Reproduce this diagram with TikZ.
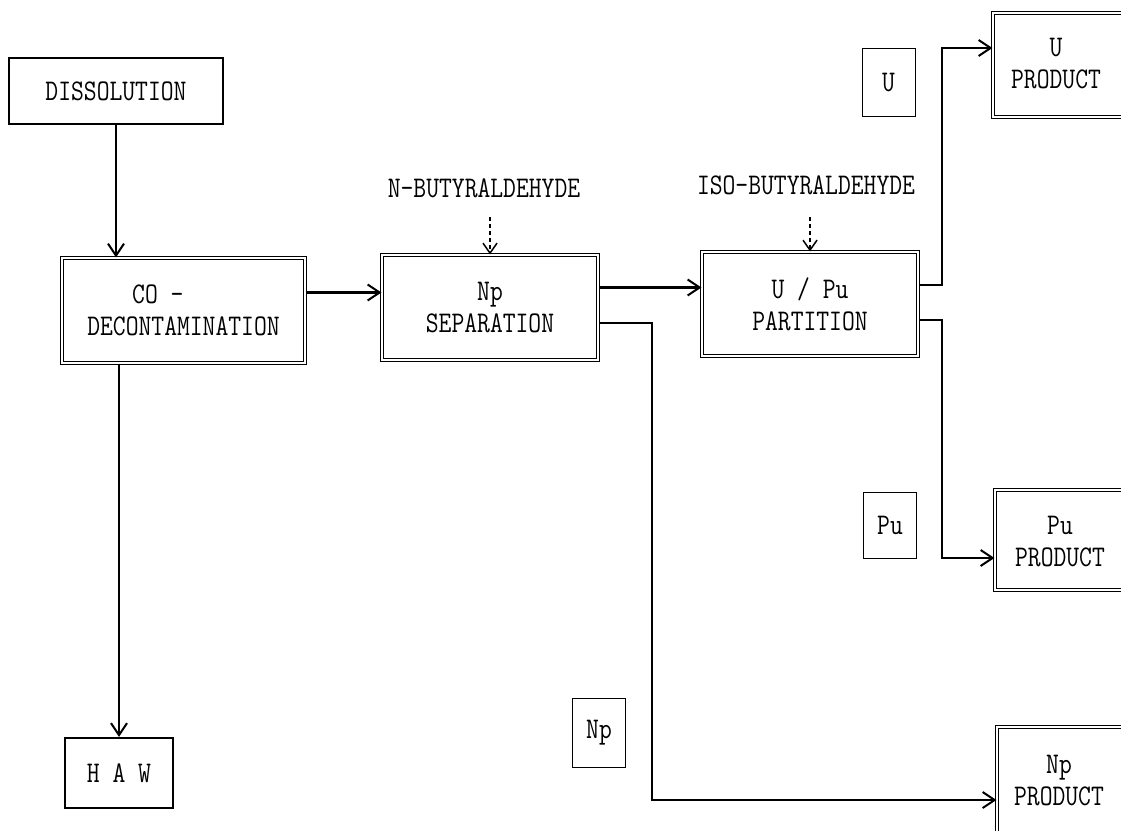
\documentclass[tikz,border=0pt]{standalone}
\usepackage{fontspec}
\newfontfamily\diafont[FakeStretch=0.83]{Latin Modern Mono}
\usetikzlibrary{arrows.meta,calc}
\tikzset{
  txt/.style={font=\diafont\fontsize{30}{32}\selectfont, inner sep=0pt, align=center},
  thickbox/.style={txt, draw, line width=2.2pt, minimum width=#1},
  dblbox/.style={txt, draw, double, line width=1.1pt, double distance=2.4pt},
  smallbox/.style={txt, draw, line width=1pt, minimum width=53pt, minimum height=68pt},
  arr/.style={line width=2.3pt, -{Straight Barb[length=12pt,width=16pt,line width=2pt]}},
  dasharr/.style={line width=1.3pt, dash pattern=on 4pt off 3pt, -{Straight Barb[length=10pt,width=14pt,line width=1.5pt]}},
}
\begin{document}
\begin{tikzpicture}[x=1pt,y=-1pt]
\useasboundingbox (0,0) rectangle (1121,830);
\clip (0,0) rectangle (1121,830);
% main boxes
\node[thickbox=214pt, minimum height=66pt] (diss) at (116,91) {DISSOLUTION};
\node[dblbox, minimum width=243pt, minimum height=105pt] (codecon) at (183.5,310.5) {CO -\phantom{XXXX}\\DECONTAMINATION};
\node[dblbox, minimum width=216pt, minimum height=105pt] (npsep) at (490,307.5) {Np\\SEPARATION};
\node[dblbox, minimum width=216pt, minimum height=104pt] (upu) at (810,304) {U / Pu\\PARTITION};
\node[thickbox=108pt, minimum height=70pt] (haw) at (119,773) {H A W};
% product boxes (cut at the right edge)
\node[dblbox, minimum width=140pt, minimum height=104pt] (uprod) at (1063,65) {};
\node[txt] (uprodt) at (1056,64) {U\\PRODUCT};
\node[dblbox, minimum width=140pt, minimum height=100pt] (puprod) at (1065,540) {};
\node[txt] (puprodt) at (1060,542) {Pu\\PRODUCT};
\node[dblbox, minimum width=140pt, minimum height=108pt] (npprod) at (1067,781) {};
\node[txt] (npprodt) at (1059,781) {Np\\PRODUCT};
% small labels
\node[smallbox] (ulab) at (888.5,82.5) {U};
\node[smallbox, minimum height=66pt] (pulab) at (890,525) {Pu};
\node[smallbox, minimum height=69pt] (nplab) at (599,732.5) {Np};
% reagent labels
\node[txt] (nbut) at (484,188) {N-BUTYRALDEHYDE};
\node[txt] (isobut) at (806,185) {ISO-BUTYRALDEHYDE};
% connectors
\draw[arr] (diss.south) -- (diss.south |- codecon.north);
\draw[arr] (haw.north |- codecon.south) -- (haw.north);
\draw[arr] ([yshift=18pt]codecon.east) -- ([yshift=18pt]codecon.east -| npsep.west);
\draw[arr] ([yshift=20pt]npsep.east) -- ([yshift=20pt]npsep.east -| upu.west);
\coordinate (npturn) at (652,800);
\draw[arr] ([yshift=-15.5pt]npsep.east) -| (npturn) -- (npturn -| npprod.west);
\coordinate (uturn) at (942,48);
\draw[arr] ([yshift=19pt]upu.east) -| (uturn) -- (uturn -| uprod.west);
\coordinate (puturn) at (942,558);
\draw[arr] ([yshift=-16pt]upu.east) -| (puturn) -- (puturn -| puprod.west);
\draw[dasharr] ([yshift=37pt]npsep.north) -- (npsep.north);
\draw[dasharr] ([yshift=34pt]upu.north) -- (upu.north);
\end{tikzpicture}
\end{document}
